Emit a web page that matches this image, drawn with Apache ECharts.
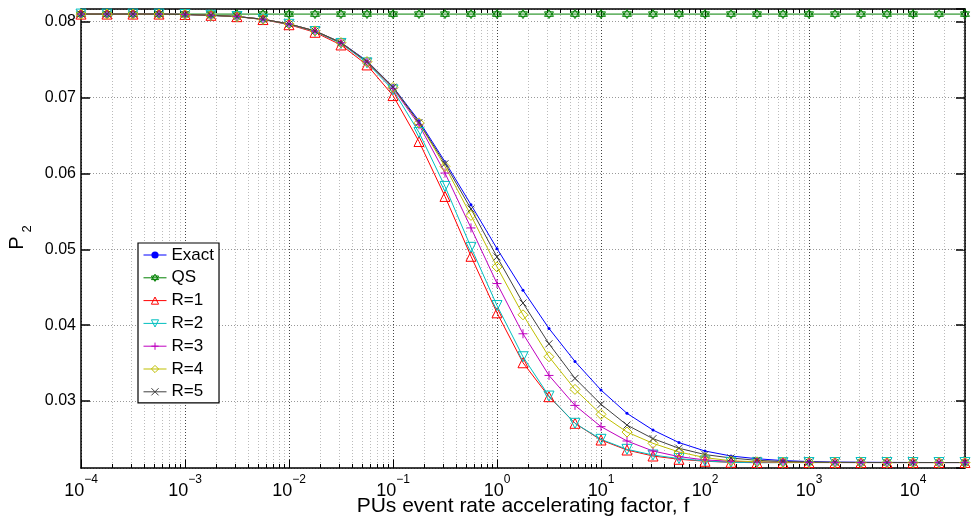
<!DOCTYPE html>
<html>
<head>
<meta charset="utf-8">
<script src="https://cdn.jsdelivr.net/npm/echarts@6/dist/echarts.min.js"></script>
<style>html,body{margin:0;padding:0;background:#fff;}#c{width:975px;height:519px;}</style>
</head>
<body>
<div id="c"></div>
<script>
// ---- data ----
const fValues = [1e-4, 1.778e-4, 3.162e-4, 5.623e-4, 1e-3, 1.778e-3, 3.162e-3, 5.623e-3,
  1e-2, 1.778e-2, 3.162e-2, 5.623e-2, 0.1, 0.1778, 0.3162, 0.5623, 1, 1.778, 3.162, 5.623,
  10, 17.78, 31.62, 56.23, 100, 177.8, 316.2, 562.3, 1000, 1778, 3162, 5623, 10000, 17780, 31620];

const exact = [0.0810, 0.0810, 0.0810, 0.0810, 0.08095, 0.08084, 0.08068, 0.08032, 0.0797, 0.07878,
  0.07726, 0.07483, 0.07141, 0.06693, 0.06154, 0.05588, 0.05009, 0.04461, 0.03957, 0.03522,
  0.03145, 0.02838, 0.02618, 0.02453, 0.02342, 0.02276, 0.0224, 0.02216, 0.02203, 0.02196,
  0.02194, 0.02192, 0.02191, 0.0219, 0.0219];
const qs = [0.0810, 0.0810, 0.0810, 0.0810, 0.0810, 0.0810, 0.0810, 0.0810, 0.0810, 0.0810,
  0.0810, 0.0810, 0.0810, 0.0810, 0.0810, 0.0810, 0.0810, 0.0810, 0.0810, 0.0810,
  0.0810, 0.0810, 0.0810, 0.0810, 0.0810, 0.0810, 0.0810, 0.0810, 0.0810, 0.0810,
  0.0810, 0.0810, 0.0810, 0.0810, 0.0810];
const r1 = [0.0810, 0.0810, 0.0810, 0.0810, 0.08095, 0.08084, 0.08066, 0.08028, 0.0796, 0.0786,
  0.07693, 0.0743, 0.07026, 0.06421, 0.05697, 0.04908, 0.04163, 0.03505, 0.03058, 0.02707,
  0.02487, 0.02355, 0.02276, 0.02233, 0.02207, 0.02193, 0.0219, 0.0219, 0.0219, 0.0219,
  0.0219, 0.0219, 0.0219, 0.0219, 0.0219];
const r2 = [0.0810, 0.0810, 0.0810, 0.0810, 0.08095, 0.08084, 0.08067, 0.0803, 0.07965, 0.0787,
  0.07713, 0.07457, 0.07101, 0.0654, 0.05829, 0.05026, 0.04259, 0.03584, 0.03066, 0.02707,
  0.02496, 0.02364, 0.02289, 0.02242, 0.02211, 0.02193, 0.02188, 0.02189, 0.0219, 0.0219,
  0.0219, 0.0219, 0.0219, 0.0219, 0.0219];
const r3 = [0.0810, 0.0810, 0.0810, 0.0810, 0.08095, 0.08084, 0.08068, 0.08032, 0.0797, 0.07876,
  0.07722, 0.0747, 0.07121, 0.06641, 0.06005, 0.05282, 0.04549, 0.03887, 0.03338, 0.02943,
  0.02663, 0.02474, 0.02342, 0.02268, 0.02224, 0.02207, 0.02197, 0.02193, 0.02191, 0.0219,
  0.0219, 0.0219, 0.0219, 0.0219, 0.0219];
const r4 = [0.0810, 0.0810, 0.0810, 0.0810, 0.08095, 0.08084, 0.08068, 0.08032, 0.0797, 0.07878,
  0.07724, 0.07474, 0.07134, 0.06667, 0.06092, 0.05447, 0.04768, 0.04137, 0.03584, 0.03154,
  0.02825, 0.02592, 0.02443, 0.02329, 0.02255, 0.02213, 0.022, 0.02194, 0.02192, 0.02191,
  0.0219, 0.0219, 0.0219, 0.0219, 0.0219];
const r5 = [0.0810, 0.0810, 0.0810, 0.0810, 0.08095, 0.08084, 0.08068, 0.08032, 0.0797, 0.07878,
  0.07724, 0.07474, 0.07137, 0.06671, 0.06128, 0.05532, 0.049, 0.04292, 0.03755, 0.03299,
  0.02957, 0.02684, 0.02505, 0.02378, 0.02295, 0.0225, 0.02219, 0.02204, 0.02196, 0.02193,
  0.02191, 0.0219, 0.0219, 0.0219, 0.0219];

const seriesNames = ['Exact', 'QS', 'R=1', 'R=2', 'R=3', 'R=4', 'R=5'];
const yTickLabels = ['0.03', '0.04', '0.05', '0.06', '0.07', '0.08'];

// ---- axis settings ----
const X_MIN = 1e-4, X_MAX = 31622.78;
const Y_MIN = 0.02118, Y_MAX = 0.08167;
const FONT = '"Liberation Sans", Arial, sans-serif';

// minor log tick positions (2..9 x 10^n)
const minorTicks = [];
for (let e = -4; e <= 4; e++) {
  for (let m = 2; m <= 9; m++) {
    const v = m * Math.pow(10, e);
    if (v < X_MAX) minorTicks.push([v, Y_MIN]);
  }
}

function xLabel(value) {
  const lg = Math.log10(value);
  const e = Math.round(lg);
  if (Math.abs(lg - e) > 0.01) return '';
  const s = String(e).replace('-', '\u2212');
  return '{b|10}{s|' + s + '}';
}
function yLabel(value) {
  const t = value.toFixed(2);
  if (Math.abs(value * 100 - Math.round(value * 100)) > 1e-6) return '';
  return yTickLabels.indexOf(t) >= 0 ? t : '';
}

const hexagram = 'path://M5,0 L9.33,7.5 L0.67,7.5 Z M5,10 L0.67,2.5 L9.33,2.5 Z';
const triUp = 'path://M5,0 L10,8.66 L0,8.66 Z';
const triDown = 'path://M0,0 L10,0 L5,8.66 Z';
const plus = 'path://M5,0 L5,10 M0,5 L10,5';
const diamond = 'path://M5,0 L10,5 L5,10 L0,5 Z';
const cross = 'path://M0,0 L10,10 M10,0 L0,10';

const styles = {
  'Exact': {color: '#0000ff', symbol: 'circle', size: 3, filled: true},
  'QS': {color: '#008000', symbol: hexagram, size: 9, filled: false},
  'R=1': {color: '#ff0000', symbol: triUp, size: 10, filled: false},
  'R=2': {color: '#00bfbf', symbol: triDown, size: 10, filled: false},
  'R=3': {color: '#bf00bf', symbol: plus, size: 9, filled: false},
  'R=4': {color: '#bfbf00', symbol: diamond, size: 10, filled: false},
  'R=5': {color: '#404040', symbol: cross, size: 7, filled: false}
};
function itemStyleOf(st) {
  return st.filled ? {color: st.color, borderColor: st.color, borderWidth: 0}
                   : {color: 'rgba(255,255,255,0)', borderColor: st.color, borderWidth: 1};
}

function mkSeries(name, data) {
  const st = styles[name];
  return {
    name: name, type: 'line', data: fValues.map((f, i) => [f, data[i]]),
    xAxisIndex: 0, yAxisIndex: 0,
    symbol: st.symbol, symbolSize: st.size, showSymbol: true, clip: false, z: 5,
    lineStyle: {color: st.color, width: 1},
    itemStyle: itemStyleOf(st),
    emphasis: {disabled: true},
    animation: false
  };
}

const chart = echarts.init(document.getElementById('c'), null, {renderer: 'canvas'});
const option = {
  animation: false,
  backgroundColor: '#fff',
  grid: {left: 81, right: 10, top: 9, bottom: 51, containLabel: false, outerBoundsMode: 'none'},
  xAxis: [{
    type: 'log', logBase: 10, min: X_MIN, max: X_MAX, interval: 1, position: 'bottom',
    axisLine: {show: true, onZero: false, lineStyle: {color: '#000', width: 1.5}},
    axisTick: {show: true, inside: true, length: 8, lineStyle: {color: '#000', width: 1}},
    axisLabel: {formatter: xLabel, margin: 6, color: '#000', fontFamily: FONT,
      rich: {b: {fontSize: 18, fontFamily: FONT, color: '#000', lineHeight: 26, verticalAlign: 'bottom'},
             s: {fontSize: 12, fontFamily: FONT, color: '#000', lineHeight: 13, verticalAlign: 'top'}}},
    splitLine: {show: true, lineStyle: {color: '#444', type: [1, 2], width: 1}},
    name: 'PUs event rate accelerating factor, f', nameLocation: 'middle', nameGap: 28,
    nameMoveOverlap: false,
    nameTextStyle: {fontSize: 21, fontFamily: FONT, color: '#000'}
  }, {
    type: 'log', logBase: 10, min: X_MIN, max: X_MAX, interval: 1, position: 'top',
    axisLine: {show: true, onZero: false, lineStyle: {color: '#000', width: 1.5}},
    axisTick: {show: true, inside: true, length: 8, lineStyle: {color: '#000', width: 1}},
    axisLabel: {show: false}, splitLine: {show: false}
  }],
  yAxis: [{
    type: 'value', min: Y_MIN, max: Y_MAX, splitNumber: 6, position: 'left',
    axisLine: {show: true, onZero: false, lineStyle: {color: '#000', width: 1.5}},
    axisTick: {show: true, inside: true, length: 9, lineStyle: {color: '#000', width: 1.5}},
    axisLabel: {formatter: yLabel, margin: 5, fontSize: 16, fontFamily: FONT, color: '#000',
      showMinLabel: false, showMaxLabel: false},
    splitLine: {show: true, lineStyle: {color: '#999', type: [1, 2], width: 1}}
  }, {
    type: 'value', min: Y_MIN, max: Y_MAX, splitNumber: 6, position: 'right',
    axisLine: {show: true, onZero: false, lineStyle: {color: '#000', width: 1.5}},
    axisTick: {show: true, inside: true, length: 9, lineStyle: {color: '#000', width: 1.5}},
    axisLabel: {show: false}, splitLine: {show: false}
  }],
  legend: {
    show: true, orient: 'vertical', left: 138, top: 243,
    data: seriesNames.map(n => ({name: n, itemStyle: itemStyleOf(styles[n]),
      lineStyle: {color: styles[n].color, width: 1}})),
    backgroundColor: '#fff', borderColor: '#000', borderWidth: 1.2,
    padding: [3, 5, 2, 5], itemGap: 4.8, itemWidth: 23, itemHeight: 9,
    textStyle: {fontSize: 17, fontFamily: FONT, color: '#000', lineHeight: 18},
    selectedMode: false
  },
  graphic: [
    {type: 'text', x: 17, y: 243, rotation: Math.PI / 2,
      style: {text: 'P', font: '20px ' + FONT, fill: '#000', align: 'center', verticalAlign: 'middle'}},
    {type: 'text', x: 27, y: 229, rotation: Math.PI / 2,
      style: {text: '2', font: '13px ' + FONT, fill: '#000', align: 'center', verticalAlign: 'middle'}}
  ],
  series: [
    {
      name: 'minor', type: 'custom', coordinateSystem: 'cartesian2d', xAxisIndex: 0, yAxisIndex: 0,
      data: minorTicks, z: 1, silent: true, clip: false, animation: false,
      renderItem: function (params, api) {
        const x = Math.round(api.coord([api.value(0), Y_MIN])[0]) + 0.5;
        const cs = params.coordSys;
        const top = cs.y, bot = cs.y + cs.height;
        return {type: 'group', children: [
          {type: 'line', shape: {x1: x, y1: top, x2: x, y2: bot},
            style: {stroke: '#bbb', lineDash: [1, 2], lineWidth: 1}},
          {type: 'line', shape: {x1: x, y1: bot, x2: x, y2: bot - 4},
            style: {stroke: '#000', lineWidth: 1}},
          {type: 'line', shape: {x1: x, y1: top, x2: x, y2: top + 4},
            style: {stroke: '#000', lineWidth: 1}}
        ]};
      }
    },
    mkSeries('Exact', exact),
    mkSeries('QS', qs),
    mkSeries('R=1', r1),
    mkSeries('R=2', r2),
    mkSeries('R=3', r3),
    mkSeries('R=4', r4),
    mkSeries('R=5', r5)
  ]
};
chart.setOption(option);
</script>
</body>
</html>
